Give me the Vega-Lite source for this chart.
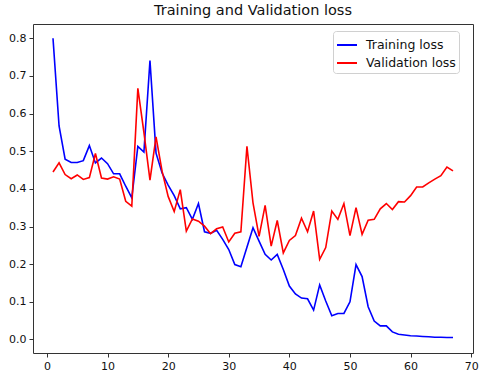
{
  "$schema": "https://vega.github.io/schema/vega-lite/v6.json",
  "width": 440,
  "height": 329,
  "autosize": {"type": "none"},
  "padding": {"left": 33, "top": 24, "right": 7, "bottom": 24},
  "background": "white",
  "title": {"text": "Training and Validation loss", "font": "DejaVu Sans", "fontSize": 14.5, "fontWeight": "normal", "color": "#111", "offset": 6, "anchor": "middle"},
  "config": {
    "view": {"stroke": "#333", "strokeWidth": 1},
    "axis": {"grid": false, "domain": false, "tickColor": "#333", "tickSize": 4, "labelFont": "DejaVu Sans", "labelFontSize": 11, "labelColor": "#111", "labelPadding": 3, "title": null}
  },
  "datasets": {
    "loss": [
      {"epoch": 1, "Training loss": 0.800, "Validation loss": 0.445},
      {"epoch": 2, "Training loss": 0.567, "Validation loss": 0.469},
      {"epoch": 3, "Training loss": 0.479, "Validation loss": 0.438},
      {"epoch": 4, "Training loss": 0.470, "Validation loss": 0.427},
      {"epoch": 5, "Training loss": 0.470, "Validation loss": 0.437},
      {"epoch": 6, "Training loss": 0.475, "Validation loss": 0.425},
      {"epoch": 7, "Training loss": 0.515, "Validation loss": 0.430},
      {"epoch": 8, "Training loss": 0.469, "Validation loss": 0.494},
      {"epoch": 9, "Training loss": 0.482, "Validation loss": 0.429},
      {"epoch": 10, "Training loss": 0.467, "Validation loss": 0.426},
      {"epoch": 11, "Training loss": 0.440, "Validation loss": 0.432},
      {"epoch": 12, "Training loss": 0.440, "Validation loss": 0.426},
      {"epoch": 13, "Training loss": 0.407, "Validation loss": 0.367},
      {"epoch": 14, "Training loss": 0.376, "Validation loss": 0.354},
      {"epoch": 15, "Training loss": 0.513, "Validation loss": 0.667},
      {"epoch": 16, "Training loss": 0.498, "Validation loss": 0.550},
      {"epoch": 17, "Training loss": 0.741, "Validation loss": 0.423},
      {"epoch": 18, "Training loss": 0.495, "Validation loss": 0.538},
      {"epoch": 19, "Training loss": 0.442, "Validation loss": 0.447},
      {"epoch": 20, "Training loss": 0.410, "Validation loss": 0.380},
      {"epoch": 21, "Training loss": 0.382, "Validation loss": 0.340},
      {"epoch": 22, "Training loss": 0.347, "Validation loss": 0.398},
      {"epoch": 23, "Training loss": 0.350, "Validation loss": 0.288},
      {"epoch": 24, "Training loss": 0.319, "Validation loss": 0.320},
      {"epoch": 25, "Training loss": 0.361, "Validation loss": 0.314},
      {"epoch": 26, "Training loss": 0.286, "Validation loss": 0.301},
      {"epoch": 27, "Training loss": 0.282, "Validation loss": 0.281},
      {"epoch": 28, "Training loss": 0.290, "Validation loss": 0.294},
      {"epoch": 29, "Training loss": 0.266, "Validation loss": 0.299},
      {"epoch": 30, "Training loss": 0.239, "Validation loss": 0.259},
      {"epoch": 31, "Training loss": 0.199, "Validation loss": 0.282},
      {"epoch": 32, "Training loss": 0.193, "Validation loss": 0.286},
      {"epoch": 33, "Training loss": 0.245, "Validation loss": 0.513},
      {"epoch": 34, "Training loss": 0.297, "Validation loss": 0.363},
      {"epoch": 35, "Training loss": 0.261, "Validation loss": 0.274},
      {"epoch": 36, "Training loss": 0.226, "Validation loss": 0.356},
      {"epoch": 37, "Training loss": 0.211, "Validation loss": 0.248},
      {"epoch": 38, "Training loss": 0.226, "Validation loss": 0.316},
      {"epoch": 39, "Training loss": 0.186, "Validation loss": 0.230},
      {"epoch": 40, "Training loss": 0.142, "Validation loss": 0.263},
      {"epoch": 41, "Training loss": 0.121, "Validation loss": 0.276},
      {"epoch": 42, "Training loss": 0.110, "Validation loss": 0.322},
      {"epoch": 43, "Training loss": 0.108, "Validation loss": 0.286},
      {"epoch": 44, "Training loss": 0.078, "Validation loss": 0.341},
      {"epoch": 45, "Training loss": 0.145, "Validation loss": 0.213},
      {"epoch": 46, "Training loss": 0.102, "Validation loss": 0.244},
      {"epoch": 47, "Training loss": 0.063, "Validation loss": 0.341},
      {"epoch": 48, "Training loss": 0.069, "Validation loss": 0.319},
      {"epoch": 49, "Training loss": 0.069, "Validation loss": 0.361},
      {"epoch": 50, "Training loss": 0.100, "Validation loss": 0.276},
      {"epoch": 51, "Training loss": 0.199, "Validation loss": 0.350},
      {"epoch": 52, "Training loss": 0.167, "Validation loss": 0.279},
      {"epoch": 53, "Training loss": 0.087, "Validation loss": 0.317},
      {"epoch": 54, "Training loss": 0.049, "Validation loss": 0.319},
      {"epoch": 55, "Training loss": 0.036, "Validation loss": 0.347},
      {"epoch": 56, "Training loss": 0.036, "Validation loss": 0.361},
      {"epoch": 57, "Training loss": 0.020, "Validation loss": 0.345},
      {"epoch": 58, "Training loss": 0.014, "Validation loss": 0.366},
      {"epoch": 59, "Training loss": 0.012, "Validation loss": 0.365},
      {"epoch": 60, "Training loss": 0.010, "Validation loss": 0.382},
      {"epoch": 61, "Training loss": 0.009, "Validation loss": 0.405},
      {"epoch": 62, "Training loss": 0.008, "Validation loss": 0.405},
      {"epoch": 63, "Training loss": 0.007, "Validation loss": 0.416},
      {"epoch": 64, "Training loss": 0.006, "Validation loss": 0.426},
      {"epoch": 65, "Training loss": 0.006, "Validation loss": 0.435},
      {"epoch": 66, "Training loss": 0.005, "Validation loss": 0.458},
      {"epoch": 67, "Training loss": 0.005, "Validation loss": 0.448}
    ]
  },
  "data": {"name": "loss"},
  "transform": [{"fold": ["Training loss", "Validation loss"], "as": ["series", "loss"]}],
  "mark": {"type": "line", "strokeWidth": 1.6, "clip": true},
  "encoding": {
    "x": {"field": "epoch", "type": "quantitative", "scale": {"domain": [-2.3, 70.3], "nice": false, "zero": false}, "axis": {"values": [0, 10, 20, 30, 40, 50, 60, 70], "format": "d"}},
    "y": {"field": "loss", "type": "quantitative", "scale": {"domain": [-0.036, 0.838], "nice": false, "zero": false}, "axis": {"values": [0, 0.1, 0.2, 0.3, 0.4, 0.5, 0.6, 0.7, 0.8], "format": ".1f"}},
    "color": {"field": "series", "type": "nominal", "scale": {"domain": ["Training loss", "Validation loss"], "range": ["#0000ff", "#ff0000"]},
      "legend": {"title": null, "orient": "none", "legendX": 300, "legendY": 7, "symbolType": "stroke", "symbolSize": 400, "symbolStrokeWidth": 2, "labelFont": "DejaVu Sans", "labelFontSize": 12.5, "labelColor": "#111", "strokeColor": "#d0d0d0", "fillColor": "white", "cornerRadius": 3, "padding": 3, "rowPadding": -1, "labelOffset": 8}},
    "order": {"field": "epoch", "type": "quantitative"}
  }
}
